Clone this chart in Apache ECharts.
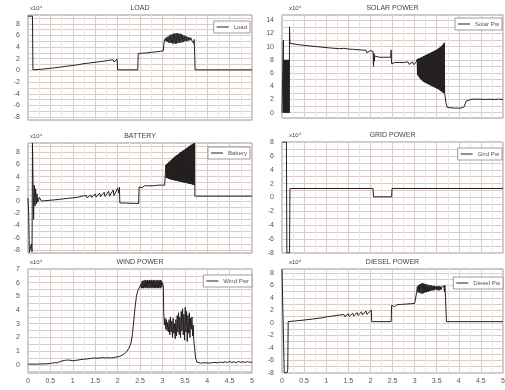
<!DOCTYPE html>
<html><head><meta charset="utf-8">
<script src="https://cdn.jsdelivr.net/npm/echarts@6/dist/echarts.min.js"></script>
<style>html,body{margin:0;padding:0;background:#fff}#c{width:505px;height:390px}</style>
</head><body><div id="c"></div>
<script>
// ---------- data ----------
const titles = ['LOAD', 'SOLAR POWER', 'BATTERY', 'GRID POWER', 'WIND POWER', 'DIESEL POWER'];
const legendNames = ['Load', 'Solar Pw', 'Battery', 'Grid Pw', 'Wind Pwr', 'Diesel Pw'];
const scaleNote = 'x10\u2074';
const xLabelValues = [0, 0.5, 1, 1.5, 2, 2.5, 3, 3.5, 4, 4.5, 5];

const yLabelsPm8 = [-8, -6, -4, -2, 0, 2, 4, 6, 8];
const yLabelsSolar = [0, 2, 4, 6, 8, 10, 12, 14];
const yLabelsWind = [0, 1, 2, 3, 4, 5, 6, 7];
const yLinesLoad = [-8, -7, -6, -5, -4, -3, -2, -1, 0, 1, 2, 3, 4, 5, 6, 7, 8, 9];
const yLinesGrid = [-8, -7, -6, -5, -4, -3, -2, -1, 0, 1, 2, 3, 4, 5, 6, 7, 8];
const yLinesSolar = [0, 1, 2, 3, 4, 5, 6, 7, 8, 9, 10, 11, 12, 13, 14];
const yLinesWind = [-0.5, 0, 0.5, 1, 1.5, 2, 2.5, 3, 3.5, 4, 4.5, 5, 5.5, 6, 6.5, 7];
const yRanges = [[-8.5, 9.5], [-0.8, 14.8], [-8.5, 9.5], [-8, 8], [-0.6, 7], [-8, 8.6]];

const loadPts = [[0,9.3],[0.1,9.3],[0.11,0.1],[0.3,0.2],[0.6,0.45],[0.9,0.75],[1.1,0.95],[1.2,1.1],[1.22,0.95],[1.3,1.2],[1.32,1.02],[1.4,1.3],[1.42,1.08],[1.5,1.4],[1.52,1.15],[1.6,1.5],[1.62,1.22],[1.7,1.6],[1.72,1.3],[1.8,1.72],[1.82,1.38],[1.9,1.82],[1.92,1.45],[1.99,1.92],[2.0,0.1],[2.45,0.1],[2.46,2.9],[2.55,2.95],[2.57,2.85],[2.65,3.0],[2.67,2.9],[2.75,3.1],[2.77,2.98],[2.85,3.18],[2.87,3.05],[2.95,3.28],[2.97,3.15],[3.02,3.35],[3.04,5.0],
[3.05,5.1],[3.065,5.5],[3.08,5.0],[3.095,5.7],[3.11,4.9],[3.125,5.8],[3.14,4.8],[3.155,6.0],[3.17,4.7],[3.185,6.1],[3.2,4.7],[3.215,6.2],[3.23,4.6],[3.245,6.3],[3.26,4.6],[3.275,6.3],[3.29,4.6],[3.305,6.4],[3.32,4.6],[3.335,6.4],[3.35,4.7],[3.365,6.3],[3.38,4.7],[3.395,6.3],[3.41,4.8],[3.425,6.2],[3.44,4.8],[3.455,6.1],[3.47,4.9],[3.485,6.0],[3.5,5.0],[3.515,5.9],[3.53,5.0],[3.545,5.8],[3.56,5.1],[3.575,5.7],[3.59,5.1],[3.605,5.6],[3.62,5.2],[3.635,5.6],[3.65,5.2],[3.665,5.5],[3.68,5.0],[3.69,5.4],[3.7,4.6],[3.71,5.3],[3.72,3.0],[3.73,0.1],[5,0.1]];

const solarPts = [[0,0],[0.025,0],[0.03,11],[0.036,0],[0.044,8],[0.052,0],[0.06,8],[0.068,0],[0.076,8],[0.084,0],[0.092,8],[0.1,0],[0.108,8],[0.116,0],[0.124,8],[0.132,0],[0.14,8],[0.148,0],[0.156,8],[0.164,0],[0.17,13],[0.18,10.5],[0.2,10.4],[0.5,10.2],[0.8,10.0],[1.1,9.8],[1.3,9.7],[1.4,9.75],[1.42,9.55],[1.5,9.65],[1.52,9.45],[1.6,9.6],[1.62,9.35],[1.7,9.55],[1.72,9.25],[1.8,9.5],[1.82,9.2],[1.9,9.45],[1.92,9.1],[2.0,9.4],[2.03,9.1],[2.06,9.3],[2.07,7.0],[2.08,9.0],[2.09,7.8],[2.1,8.6],[2.12,8.3],[2.2,8.4],[2.3,8.4],[2.4,8.4],[2.46,8.4],[2.47,9.5],[2.48,7.4],[2.5,7.3],[2.55,7.6],[2.58,7.3],[2.65,7.6],[2.68,7.3],[2.75,7.6],[2.78,7.3],[2.85,7.7],[2.88,7.3],[2.95,7.7],[2.98,7.3],[3.03,7.6],
[3.05,7.4],[3.0575,8.1],[3.065,5.8],[3.0725,8.1],[3.08,5.6],[3.0875,8.2],[3.095,5.5],[3.1025,8.2],[3.11,5.3],[3.1175,8.25],[3.125,5.2],[3.1325,8.3],[3.14,5.1],[3.1475,8.35],[3.155,5.0],[3.1625,8.4],[3.17,4.9],[3.1775,8.45],[3.185,4.8],[3.1925,8.5],[3.2,4.7],[3.2075,8.55],[3.215,4.65],[3.2225,8.6],[3.23,4.6],[3.2375,8.65],[3.245,4.55],[3.2525,8.7],[3.26,4.5],[3.2675,8.75],[3.275,4.45],[3.2825,8.8],[3.29,4.4],[3.2975,8.85],[3.305,4.35],[3.3125,8.9],[3.32,4.3],[3.3275,8.95],[3.335,4.25],[3.3425,9.0],[3.35,4.2],[3.3575,9.05],[3.365,4.15],[3.3725,9.1],[3.38,4.1],[3.3875,9.15],[3.395,4.05],[3.4025,9.2],[3.41,4.0],[3.4175,9.25],[3.425,3.95],[3.4325,9.3],[3.44,3.9],[3.4475,9.35],[3.455,3.85],[3.4625,9.4],[3.47,3.8],[3.4775,9.45],[3.485,3.75],[3.4925,9.5],[3.5,3.7],[3.5075,9.55],[3.515,3.65],[3.5225,9.6],[3.53,3.6],[3.5375,9.7],[3.545,3.55],[3.5525,9.8],[3.56,3.5],[3.5675,9.85],[3.575,3.4],[3.5825,9.9],[3.59,3.3],[3.5975,10.0],[3.605,3.25],[3.6125,10.1],[3.62,3.2],[3.6275,10.2],[3.635,3.1],[3.6425,10.3],[3.65,3.0],[3.6575,10.45],[3.665,2.95],[3.6725,10.6],[3.68,2.9],
[3.69,2.5],[3.71,1.5],[3.74,0.8],[3.9,0.7],[4.05,0.7],[4.12,0.9],[4.17,1.8],[4.2,2.0],[4.3,2.05],[4.31,1.9],[4.4,2.05],[4.41,1.9],[4.5,2.05],[4.51,1.9],[4.6,2.0],[4.61,1.85],[4.7,2.05],[4.71,1.9],[4.8,2.0],[4.81,1.9],[4.9,2.05],[4.91,1.9],[5,2.0]];

const batteryPts = [[0,0.5],[0.015,-2],[0.03,-8.4],[0.06,-8.4],[0.075,-7],[0.09,-8.3],[0.1,9.5],[0.11,9.5],[0.125,-3],[0.14,2.6],[0.155,-0.8],[0.17,2.0],[0.185,-0.5],[0.2,1.2],[0.22,-0.2],[0.25,0.6],[0.3,0.0],[0.6,0.2],[0.9,0.45],[1.1,0.6],[1.2,0.8],[1.22,0.5],[1.3,0.9],[1.32,0.55],[1.4,1.0],[1.42,0.6],[1.5,1.15],[1.52,0.65],[1.6,1.3],[1.62,0.7],[1.7,1.45],[1.72,0.75],[1.8,1.6],[1.82,0.8],[1.9,1.8],[1.92,0.9],[2.0,2.1],[2.03,1.3],[2.04,2.3],[2.05,-0.3],[2.47,-0.4],[2.48,2.3],[2.55,2.2],[2.6,2.5],[2.63,2.2],[2.7,2.5],[2.73,2.2],[2.8,2.5],[2.83,2.2],[2.9,2.6],[2.93,2.3],[3.0,2.6],[3.05,2.6],
[3.07,5.0],[3.0775,5.9],[3.085,3.8],[3.0925,6.0],[3.1,3.8],[3.1075,6.1],[3.115,3.75],[3.1225,6.2],[3.13,3.7],[3.1375,6.3],[3.145,3.65],[3.1525,6.4],[3.16,3.6],[3.1675,6.5],[3.175,3.6],[3.1825,6.6],[3.19,3.55],[3.1975,6.7],[3.205,3.5],[3.2125,6.8],[3.22,3.5],[3.2275,6.9],[3.235,3.45],[3.2425,7.0],[3.25,3.45],[3.2575,7.1],[3.265,3.4],[3.2725,7.2],[3.28,3.4],[3.2875,7.3],[3.295,3.35],[3.3025,7.4],[3.31,3.35],[3.3175,7.45],[3.325,3.3],[3.3325,7.5],[3.34,3.3],[3.3475,7.6],[3.355,3.25],[3.3625,7.7],[3.37,3.25],[3.3775,7.8],[3.385,3.2],[3.3925,7.9],[3.4,3.2],[3.4075,8.0],[3.415,3.15],[3.4225,8.05],[3.43,3.15],[3.4375,8.1],[3.445,3.1],[3.4525,8.2],[3.46,3.1],[3.4675,8.3],[3.475,3.05],[3.4825,8.35],[3.49,3.05],[3.4975,8.4],[3.505,3.0],[3.5125,8.5],[3.52,3.0],[3.5275,8.6],[3.535,2.95],[3.5425,8.65],[3.55,2.95],[3.5575,8.7],[3.565,2.9],[3.5725,8.8],[3.58,2.9],[3.5875,8.9],[3.595,2.85],[3.6025,9.0],[3.61,2.85],[3.6175,9.05],[3.625,2.8],[3.6325,9.1],[3.64,2.8],[3.6475,9.2],[3.655,2.75],[3.6625,9.25],[3.67,2.7],[3.6775,9.3],[3.685,2.7],[3.6925,9.4],[3.7,2.65],[3.7075,9.45],[3.715,2.6],[3.72,9.5],[3.725,0.8],[5,0.8]];

const gridPts = [[0,8],[0.1,8],[0.11,-8],[0.17,-8],[0.18,1.3],[2.06,1.3],[2.07,0.1],[2.48,0.1],[2.49,1.3],[5,1.3]];

const windPts = [[0,0.05],[0.2,0.05],[0.4,0.07],[0.5,0.1],[0.55,0.12],[0.6,0.16],[0.65,0.14],[0.7,0.22],[0.73,0.18],[0.76,0.28],[0.79,0.22],[0.82,0.32],[0.85,0.26],[0.88,0.35],[0.91,0.27],[0.94,0.33],[0.97,0.25],[1.0,0.3],[1.03,0.24],[1.06,0.32],[1.09,0.27],[1.12,0.35],[1.15,0.28],[1.18,0.38],[1.21,0.3],[1.24,0.4],[1.27,0.33],[1.3,0.42],[1.33,0.35],[1.36,0.45],[1.39,0.36],[1.42,0.47],[1.45,0.38],[1.48,0.5],[1.51,0.4],[1.54,0.48],[1.57,0.4],[1.6,0.5],[1.63,0.42],[1.66,0.52],[1.69,0.44],[1.72,0.5],[1.75,0.43],[1.78,0.52],[1.81,0.45],[1.84,0.5],[1.87,0.47],[1.9,0.52],[1.93,0.5],[1.96,0.56],[2.0,0.58],[2.05,0.62],[2.1,0.7],[2.15,0.8],[2.2,0.95],[2.25,1.2],[2.3,1.6],[2.33,2.2],[2.36,3.2],[2.39,4.2],[2.42,5.0],[2.45,5.4],[2.48,5.6],[2.5,5.75],
[2.52,5.9],[2.532,5.6],[2.544,6.1],[2.556,5.6],[2.568,6.15],[2.58,5.6],[2.592,6.15],[2.604,5.65],[2.616,6.2],[2.628,5.6],[2.64,6.15],[2.652,5.65],[2.664,6.2],[2.676,5.6],[2.688,6.15],[2.7,5.6],[2.712,6.2],[2.724,5.65],[2.736,6.15],[2.748,5.6],[2.76,6.2],[2.772,5.6],[2.784,6.15],[2.796,5.65],[2.808,6.2],[2.82,5.6],[2.832,6.15],[2.844,5.6],[2.856,6.2],[2.868,5.65],[2.88,6.15],[2.892,5.6],[2.904,6.2],[2.916,5.6],[2.928,6.15],[2.94,5.65],[2.952,6.2],[2.964,5.6],[2.976,6.15],[2.988,5.7],[3.0,6.0],[3.02,5.8],
[3.03,3.8],[3.045,2.9],[3.06,3.4],[3.075,2.6],[3.09,3.3],[3.105,2.5],[3.12,3.1],[3.135,2.4],[3.15,3.3],[3.165,2.2],[3.18,3.5],[3.195,2.4],[3.21,3.2],[3.225,2.0],[3.24,3.4],[3.255,2.3],[3.27,3.0],[3.285,1.9],[3.3,3.3],[3.315,2.1],[3.33,3.6],[3.345,2.4],[3.36,3.8],[3.375,2.2],[3.39,3.5],[3.405,2.0],[3.42,3.9],[3.435,2.5],[3.45,4.1],[3.465,2.2],[3.48,3.7],[3.495,1.8],[3.51,4.2],[3.525,2.4],[3.54,3.9],[3.555,1.7],[3.57,3.6],[3.585,2.3],[3.6,3.8],[3.615,2.0],[3.63,3.4],[3.645,2.6],[3.66,3.5],[3.675,2.1],[3.69,2.9],[3.7,1.8],[3.72,1.2],[3.74,0.5],[3.77,0.2],
[3.85,0.12],[3.95,0.15],[4.05,0.12],[4.15,0.18],[4.25,0.14],[4.3,0.2],[4.35,0.15],[4.4,0.22],[4.45,0.16],[4.5,0.24],[4.55,0.17],[4.6,0.22],[4.65,0.16],[4.7,0.24],[4.75,0.18],[4.8,0.22],[4.85,0.17],[4.9,0.24],[4.95,0.18],[5,0.2]];

const dieselPts = [[0,8.6],[0.04,8.6],[0.05,-7.9],[0.08,-7.6],[0.11,-8],[0.13,-7.5],[0.14,0.2],[0.5,0.45],[0.9,0.8],[1.0,0.95],[1.02,0.8],[1.1,1.05],[1.12,0.85],[1.2,1.15],[1.22,0.9],[1.3,1.25],[1.32,0.95],[1.4,1.35],[1.42,1.0],[1.5,1.45],[1.52,1.05],[1.6,1.55],[1.62,1.1],[1.7,1.65],[1.72,1.2],[1.8,1.75],[1.82,1.25],[1.9,1.9],[1.92,1.35],[2.02,2.05],[2.03,0.2],[2.47,0.2],[2.48,2.8],[2.55,2.6],[2.6,2.9],[2.63,2.65],[2.7,2.95],[2.73,2.7],[2.8,3.0],[2.83,2.75],[2.9,3.05],[2.93,2.8],[3.0,3.1],[3.04,3.1],
[3.05,5.0],[3.062,5.8],[3.074,4.9],[3.086,6.0],[3.098,4.8],[3.11,6.1],[3.122,4.8],[3.134,6.2],[3.146,4.7],[3.158,6.3],[3.17,4.7],[3.182,6.3],[3.194,4.7],[3.206,6.3],[3.218,4.8],[3.23,6.2],[3.242,4.9],[3.254,6.2],[3.266,4.9],[3.278,6.1],[3.29,5.0],[3.302,6.1],[3.314,5.0],[3.326,6.0],[3.338,5.1],[3.35,6.0],[3.362,5.1],[3.374,6.0],[3.386,5.2],[3.398,5.9],[3.41,5.2],[3.422,5.9],[3.434,5.2],[3.446,5.9],[3.458,5.3],[3.47,5.8],[3.482,5.3],[3.494,5.8],[3.506,5.3],[3.518,5.8],[3.53,5.2],[3.542,5.9],[3.554,5.2],[3.566,5.8],[3.578,5.3],[3.59,5.8],[3.602,5.3],[3.614,5.7],[3.626,5.4],[3.638,5.7],[3.65,5.4],[3.662,5.9],[3.674,5.0],[3.686,6.0],[3.7,4.0],[3.72,0.2],[5,0.2]];

const seriesData = [loadPts, solarPts, batteryPts, gridPts, windPts, dieselPts];
const yLabelVals = [yLabelsPm8, yLabelsSolar, yLabelsPm8, yLabelsPm8, yLabelsWind, yLabelsPm8];
const yLineVals = [yLinesLoad, yLinesSolar, yLinesLoad, yLinesGrid, yLinesWind, yLinesGrid];

// ---------- layout / style ----------
const boxes = [
  {left: 28, top: 15, width: 224, height: 105},
  {left: 282, top: 15, width: 221, height: 103},
  {left: 28, top: 143, width: 224, height: 110},
  {left: 282, top: 142, width: 221, height: 111},
  {left: 28, top: 269, width: 224, height: 104},
  {left: 282, top: 269, width: 221, height: 104}
];
const legendPos = [
  {right: 255, top: 21}, {right: 3, top: 18}, {right: 255, top: 147},
  {right: 3, top: 148}, {right: 253, top: 275}, {right: 2, top: 277}
];
const FONT = 'Liberation Sans, Arial, sans-serif';
const LINE = '#242020';
const MAJOR = '#d8cdc8';
const MINOR = '#ece6e3';

const grid = [], xAxis = [], yAxis = [], series = [], legend = [], graphic = [];
boxes.forEach((b, i) => {
  grid.push(Object.assign({show: true, borderColor: '#9a9292', borderWidth: 1, backgroundColor: '#fff', containLabel: false, outerBoundsMode: 'none'}, b));
  const bottomRow = i >= 4;
  xAxis.push({
    type: 'value', gridIndex: i, min: 0, max: 5, interval: 0.5,
    axisLine: {show: false}, axisTick: {show: false},
    axisLabel: {show: bottomRow, fontSize: 7, color: '#555', fontFamily: FONT, margin: 5,
      customValues: xLabelValues},
    splitLine: {show: true, lineStyle: {color: MAJOR, width: 1}},
    minorTick: {show: false, splitNumber: 2},
    minorSplitLine: {show: true, lineStyle: {color: MINOR, width: 1}}
  });
  yAxis.push({
    type: 'value', gridIndex: i, min: yRanges[i][0], max: yRanges[i][1],
    axisLine: {show: false},
    axisTick: {show: false, customValues: yLineVals[i]},
    axisLabel: {show: true, fontSize: 7, color: '#555', fontFamily: FONT, margin: 8, customValues: yLabelVals[i]},
    splitLine: {show: true, lineStyle: {color: MAJOR, width: 1}}
  });
  series.push({
    name: legendNames[i], type: 'line', xAxisIndex: i, yAxisIndex: i,
    data: seriesData[i], symbol: 'none', showSymbol: false, sampling: null,
    lineStyle: {color: LINE, width: 1}, itemStyle: {color: LINE}, animation: false
  });
  legend.push(Object.assign({
    data: [legendNames[i]], orient: 'vertical', backgroundColor: '#fff', icon: 'rect',
    borderColor: '#8a8484', borderWidth: 0.8, padding: [3, 3], itemWidth: 12, itemHeight: 1, itemGap: 2,
    textStyle: {fontSize: 6, color: '#555', fontFamily: FONT}, selectedMode: false
  }, legendPos[i]));
  graphic.push({type: 'text', x: b.left + b.width / 2, y: b.top - 10,
    style: {text: titles[i], fill: '#444', font: '7px ' + FONT, align: 'center', textAlign: 'center'}});
  graphic.push({type: 'text', x: b.left + (i % 2 ? 7 : 2), y: b.top - 10,
    style: {text: scaleNote, fill: '#444', font: '6px ' + FONT}});
});

const chart = echarts.init(document.getElementById('c'), null, {renderer: 'canvas'});
chart.setOption({animation: false, backgroundColor: '#fff', grid, xAxis, yAxis, series, legend, graphic});
</script>
</body></html>
